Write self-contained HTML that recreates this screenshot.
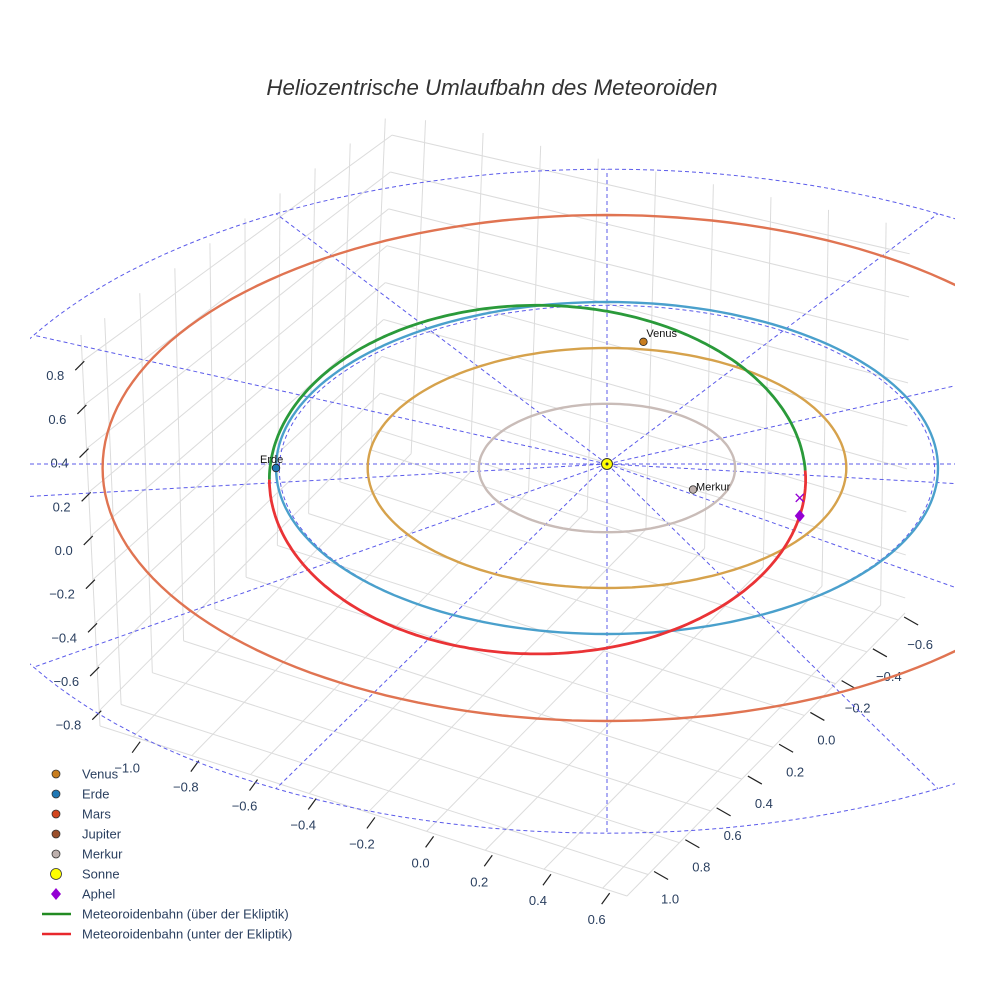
<!DOCTYPE html>
<html><head><meta charset="utf-8"><style>
body{margin:0;background:#fff}
svg{display:block;font-family:"Liberation Sans",sans-serif}
</style></head><body>
<svg id="chart" width="984" height="984" viewBox="0 0 984 984">
<rect width="984" height="984" fill="#fff"/>
<text x="492" y="95" text-anchor="middle" font-size="22.3" font-style="italic" fill="#333">Heliozentrische Umlaufbahn des Meteoroiden</text>
<g id="grid"></g>
<g id="axes"></g>
<defs><clipPath id="clip"><rect x="30" y="100" width="925" height="840"/></clipPath></defs>
<g id="plot" clip-path="url(#clip)"></g>
<g id="legend"></g>
</svg>
<script>
// ---- data ----
const xTicks=[-1.0,-0.8,-0.6,-0.4,-0.2,0.0,0.2,0.4,0.6];
const yTicks=[-0.6,-0.4,-0.2,0.0,0.2,0.4,0.6,0.8,1.0];
const zTicks=[-0.8,-0.6,-0.4,-0.2,0.0,0.2,0.4,0.6,0.8];
const orbitNames=["Merkur","Venus","Erde","Mars"];
const orbitRadii=[0.387,0.723,1.0,1.524];
const orbitColors=["#c9bcb8","#d6a24c","#4aa0cc","#e07452"];
const planetNames=["Venus","Erde","Merkur"];
const planetX=[0.11,-1.0,0.26];
const planetY=[-0.76,0.0,0.13];
const planetColors=["#c87d1e","#1f77b4","#bdb0ad"];
const refRadii=[0.99,2.0];
const refOffsetY=[0.01,0.2];
const refAngles=[0,30,60,90,120,150,180,210,240,270,300,330];
// meteoroid orbit (screen-plane ellipse): centerX, centerY, semiX, semiY (AU)
const meteorEllipse=[-0.21,0.07,0.81,1.05];
const meteorSplitDeg=[-3,180];
const aphelAngle=[12];
const legendNames=["Venus","Erde","Mars","Jupiter","Merkur","Sonne","Aphel","Meteoroidenbahn (über der Ekliptik)","Meteoroidenbahn (unter der Ekliptik)"];
const legendColors=["#c87d1e","#1f77b4","#d2461e","#9a4f2c","#bdb0ad","#ffff00","#9400d3","#228b22","#e8282c"];

// ---- geometry ----
const NS="http://www.w3.org/2000/svg";
function el(tag,attrs,parent){const e=document.createElementNS(NS,tag);for(const k in attrs)e.setAttribute(k,attrs[k]);parent.appendChild(e);return e;}
const CX=607,CY=468,SX=331,SY=166;
function px(X){return CX+SX*X;}
function py(Y){return CY+SY*Y;}
const L=[100,726],F=[627,896],R=[905,613],B=[378,443],TL=[81,335],TB=[393,113],TR=[910,228];
const xMin=-1.113,xMax=0.683,yA=1.135,yB=-0.644,zMin=-0.87,zMax=0.92;
function lerp(a,b,t){return [a[0]+(b[0]-a[0])*t,a[1]+(b[1]-a[1])*t];}
function tx(v){return (v-xMin)/(xMax-xMin);}
function ty(v){return (v-yA)/(yB-yA);}
function tz(v){return (v-zMin)/(zMax-zMin);}
const grid=document.getElementById('grid');
function gl(a,b,name){const l=el('line',{x1:a[0],y1:a[1],x2:b[0],y2:b[1],stroke:'#dcdcdc','stroke-width':1},grid);

}
xTicks.forEach(v=>{const t=tx(v);gl(lerp(L,F,t),lerp(B,R,t),'floor-grid-x');
 gl(lerp(B,R,t),lerp(TB,TR,t),'wall-grid-x');});
yTicks.forEach(v=>{const t=ty(v);gl(lerp(F,R,t),lerp(L,B,t),'floor-grid-y');
 gl(lerp(L,B,t),lerp(TL,TB,t),'wall-grid-y');});
zTicks.forEach(v=>{const t=tz(v);gl(lerp(L,TL,t),lerp(B,TB,t),'wall-grid-z');
 gl(lerp(B,TB,t),lerp(R,TR,t),'wall-grid-z');});
gl(L,F,'x-axis-line');gl(F,R,'y-axis-line');gl(L,TL,'z-axis-line');
const axes=document.getElementById('axes');
function tick(a,b,name){const l=el('line',{x1:a[0],y1:a[1],x2:b[0],y2:b[1],stroke:'#222','stroke-width':1.2},axes);

}
function label(x,y,s,anchor,name){const t=el('text',{x:x,y:y,'font-size':13,fill:'#2a3f5f','text-anchor':anchor},axes);t.textContent=s;

}
function fmt(v){return (v<0?'\u2212':'')+Math.abs(v).toFixed(1);}
xTicks.forEach(v=>{const p=lerp(L,F,tx(v));const q=[p[0]+2,p[1]+12];tick([q[0]+5,q[1]-7],[q[0]-3,q[1]+4],'x-tick');
 label(p[0]-6,p[1]+36,fmt(v),'middle','x-tick-label');});
yTicks.forEach(v=>{const p=lerp(F,R,ty(v));const q=[p[0]+14,p[1]+2];tick([q[0]-8,q[1]-5],[q[0]+6,q[1]+3],'y-tick');
 label(p[0]+22,p[1]+29,fmt(v),'middle','y-tick-label');});
zTicks.forEach(v=>{const p=lerp(L,TL,tz(v));const q=[p[0]-2,p[1]+6];tick([q[0]+4,q[1]-6],[q[0]-5,q[1]+3],'z-tick');
 label(p[0]-18,p[1]+19,fmt(v),'end','z-tick-label');});

// ---- plot ----
const plot=document.getElementById('plot');
function ellipsePath(cx,cy,rx,ry,a0,a1){let d='';const n=180;for(let i=0;i<=n;i++){const a=(a0+(a1-a0)*i/n)*Math.PI/180;
 d+=(i?'L':'M')+(px(cx+rx*Math.cos(a))).toFixed(1)+','+(py(cy+ry*Math.sin(a))).toFixed(1);}return d;}
const sunX=px(0),sunY=py(0)-4;
// reference dashed grid
const outerR=refRadii[refRadii.length-1],outerOff=refOffsetY[refOffsetY.length-1];
refAngles.forEach(a=>{const r=a*Math.PI/180;const l=el('line',{x1:sunX,y1:sunY,x2:px(outerR*Math.cos(r)),y2:py(outerOff+outerR*Math.sin(r)),stroke:'#5b5bea','stroke-width':1,'stroke-dasharray':'4,3'},plot);

});
const hz=el('line',{x1:30,y1:sunY,x2:955,y2:sunY,stroke:'#5b5bea','stroke-width':1,'stroke-dasharray':'4,3'},plot);


refRadii.forEach((r,i)=>{const p=el('path',{d:ellipsePath(0,refOffsetY[i],r,r,0,360),fill:'none',stroke:'#5b5bea','stroke-width':1,'stroke-dasharray':'4,3'},plot);

});
// planet orbits
orbitRadii.forEach((r,i)=>{const p=el('path',{d:ellipsePath(0,0,r,r,0,360),fill:'none',stroke:orbitColors[i],'stroke-width':2.4},plot);

});
// meteoroid
const [mcx,mcy,mrx,mry]=meteorEllipse;
const g=el('path',{d:ellipsePath(mcx,mcy,mrx,mry,meteorSplitDeg[1],360+meteorSplitDeg[0]),fill:'none',stroke:'#2a9a3a','stroke-width':2.8},plot);


const rd=el('path',{d:ellipsePath(mcx,mcy,mrx,mry,meteorSplitDeg[0],meteorSplitDeg[1]),fill:'none',stroke:'#ea3336','stroke-width':2.8},plot);


// planets
planetNames.forEach((n,i)=>{const c=el('circle',{cx:px(planetX[i]),cy:py(planetY[i]),r:3.8,fill:planetColors[i],stroke:'#222','stroke-width':0.8},plot);


const t=el('text',{x:px(planetX[i])+(n==='Erde'?-16:3),y:py(planetY[i])-(n==='Merkur'?-1:5),'font-size':11,fill:'#111'},plot);t.textContent=n;

});
// sun
const s=el('circle',{cx:sunX,cy:sunY,r:5.5,fill:'#ffff00',stroke:'#333','stroke-width':1},plot);


el('circle',{cx:sunX,cy:sunY,r:1.5,fill:'#334'},plot);
// aphel
const aa=aphelAngle[0]*Math.PI/180;const ax=px(mcx+mrx*Math.cos(aa)),ay=py(mcy+mry*Math.sin(aa));
const dm=el('path',{d:`M${ax},${ay-6}L${ax+5},${ay}L${ax},${ay+6}L${ax-5},${ay}Z`,fill:'#9400d3'},plot);


const xm=el('path',{d:`M${ax-4},${ay-22}L${ax+4},${ay-14}M${ax+4},${ay-22}L${ax-4},${ay-14}`,stroke:'#9400d3','stroke-width':1.3},plot);



// ---- legend ----
const lg=document.getElementById('legend');
legendNames.forEach((n,i)=>{const y=774+i*20;const gi=el('g',{},lg);


if(i<6){el('circle',{cx:56,cy:y,r:i===5?5.5:4,fill:legendColors[i],stroke:'#333','stroke-width':0.8},gi);}
else if(i===6){el('path',{d:`M56,${y-6}L61,${y}L56,${y+6}L51,${y}Z`,fill:legendColors[i]},gi);}
else{el('line',{x1:42,y1:y,x2:71,y2:y,stroke:legendColors[i],'stroke-width':2.5},gi);}
const t=el('text',{x:82,y:y+4.5,'font-size':13,fill:'#2a3f5f'},gi);t.textContent=n;});
</script>
</body></html>
